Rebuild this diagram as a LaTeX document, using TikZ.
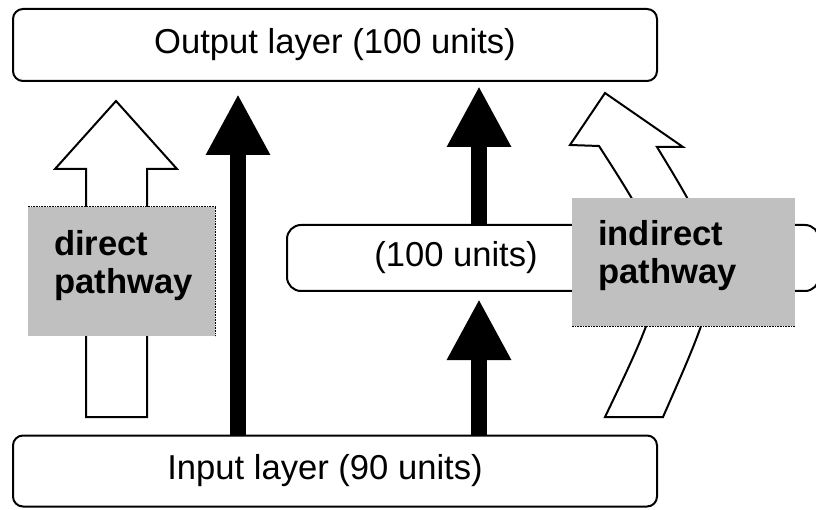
\documentclass[tikz,border=0pt]{standalone}
\usepackage{fontspec}
\setmainfont{Liberation Sans}
\usepackage{tikz}
\usetikzlibrary{arrows.meta,positioning}

\definecolor{boxgrey}{HTML}{C0C0C0}
\newcommand{\labelfont}{\fontsize{34.6pt}{38.5pt}\selectfont}

\tikzset{
  layer/.style={draw, line width=2pt, rounded corners=10pt, fill=white,
    minimum width=644pt, minimum height=72pt, inner sep=0pt},
  solidpath/.style={line width=16pt, -{Triangle[width=60pt,length=61pt]}},
  openpath/.style={draw, line width=2pt, fill=white, line join=miter},
  greybox/.style={fill=boxgrey, inner sep=0pt},
  greyedge/.style={line width=0.6pt, densely dotted},
  greytext/.style={font=\labelfont\bfseries, align=left, anchor=north west, inner sep=0pt}
}

\begin{document}
\begin{tikzpicture}[x=1pt, y=-1pt, every node/.style={font=\labelfont}]
  \useasboundingbox (0,0) rectangle (816,510);
  \clip (0,0) rectangle (816,510);

  % hollow pathway arrows
  \path[openpath] (86,417) -- (86,169) -- (55,169) -- (116,101) -- (177,169)
    -- (147,169) -- (147,417) -- cycle;
  \path[openpath] (605,417) .. controls (677,267) and (676,266) .. (599,146)
    -- (570,145) -- (605,93) -- (683,147) -- (657,147)
    .. controls (730,267) and (729,267) .. (663,417) -- cycle;

  % layers
  \node[layer] (output) at (335,45) {Output layer (100 units)};
  \node[layer, minimum height=71pt] (input) at (335,471) {Input layer (90 units)\hspace*{20pt}};
  \node[layer, minimum width=532pt, minimum height=66pt, rounded corners=14pt] (hidden) at (553,258) {};
  \node (hiddenlabel) at (456,258) {(100 units)};

  % solid connections
  \coordinate (leftcol) at (238,0);
  \coordinate (rightcol) at (479,0);
  \draw[solidpath, shorten >=12pt] (input.north -| leftcol) -- (output.south -| leftcol);
  \draw[solidpath, shorten >=4pt] (hidden.north -| rightcol) -- (output.south -| rightcol);
  \draw[solidpath, shorten >=7pt] (input.north -| rightcol) -- (hidden.south -| rightcol);

  % pathway labels
  \node[greybox, minimum width=187pt, minimum height=129pt] (directbox) at (121.5,271.5) {};
  \draw[greyedge] (directbox.north west) -- (directbox.north east) -- (directbox.south east);
  \node[greytext] (directlabel) at (54,230) {direct\\pathway};
  \node[greybox, minimum width=223pt, minimum height=128pt] (indirectbox) at (683.5,262) {};
  \draw[greyedge] (indirectbox.south west) -- (indirectbox.south east);
  \node[greytext] (indirectlabel) at (598,220) {indirect\\pathway};
\end{tikzpicture}
\end{document}
